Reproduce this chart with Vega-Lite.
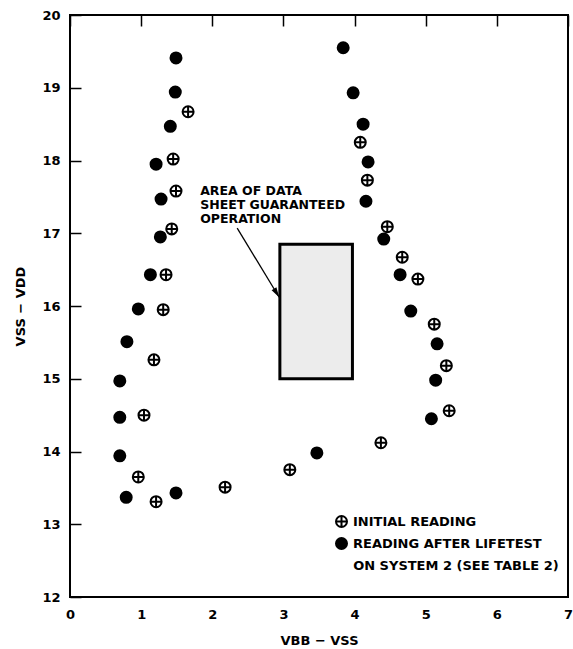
{
  "$schema": "https://vega.github.io/schema/vega-lite/v6.json",
  "width": 498,
  "height": 582,
  "autosize": {"type": "none"},
  "padding": {"left": 70, "top": 15, "right": 5, "bottom": 52},
  "background": "white",
  "config": {
    "view": {"stroke": "black", "strokeWidth": 2},
    "font": "DejaVu Sans",
    "legend": {
      "orient": "none",
      "legendX": 265,
      "legendY": 500,
      "padding": 0,
      "labelFont": "DejaVu Sans",
      "labelFontSize": 13,
      "labelFontWeight": "bold",
      "labelColor": "black",
      "labelOffset": 5,
      "labelLimit": 0,
      "rowPadding": 3,
      "symbolStrokeColor": "black",
      "symbolStrokeWidth": 2,
      "symbolSize": 121
    }
  },
  "datasets": {
    "points": [
      {"series": "READING AFTER LIFETEST", "x": 1.49, "y": 19.41},
      {"series": "READING AFTER LIFETEST", "x": 1.48, "y": 18.94},
      {"series": "READING AFTER LIFETEST", "x": 1.41, "y": 18.47},
      {"series": "READING AFTER LIFETEST", "x": 1.21, "y": 17.95},
      {"series": "READING AFTER LIFETEST", "x": 1.28, "y": 17.47},
      {"series": "READING AFTER LIFETEST", "x": 1.27, "y": 16.95},
      {"series": "READING AFTER LIFETEST", "x": 1.13, "y": 16.43},
      {"series": "READING AFTER LIFETEST", "x": 0.96, "y": 15.96},
      {"series": "READING AFTER LIFETEST", "x": 0.80, "y": 15.51},
      {"series": "READING AFTER LIFETEST", "x": 0.70, "y": 14.97},
      {"series": "READING AFTER LIFETEST", "x": 0.70, "y": 14.47},
      {"series": "READING AFTER LIFETEST", "x": 0.70, "y": 13.94},
      {"series": "READING AFTER LIFETEST", "x": 0.79, "y": 13.37},
      {"series": "READING AFTER LIFETEST", "x": 1.49, "y": 13.43},
      {"series": "READING AFTER LIFETEST", "x": 3.47, "y": 13.98},
      {"series": "READING AFTER LIFETEST", "x": 5.08, "y": 14.45},
      {"series": "READING AFTER LIFETEST", "x": 5.14, "y": 14.98},
      {"series": "READING AFTER LIFETEST", "x": 5.16, "y": 15.48},
      {"series": "READING AFTER LIFETEST", "x": 4.79, "y": 15.93},
      {"series": "READING AFTER LIFETEST", "x": 4.64, "y": 16.43},
      {"series": "READING AFTER LIFETEST", "x": 4.41, "y": 16.92},
      {"series": "READING AFTER LIFETEST", "x": 4.16, "y": 17.44},
      {"series": "READING AFTER LIFETEST", "x": 4.19, "y": 17.98},
      {"series": "READING AFTER LIFETEST", "x": 4.12, "y": 18.50},
      {"series": "READING AFTER LIFETEST", "x": 3.98, "y": 18.93},
      {"series": "READING AFTER LIFETEST", "x": 3.84, "y": 19.55},
      {"series": "INITIAL READING", "x": 1.66, "y": 18.67},
      {"series": "INITIAL READING", "x": 1.45, "y": 18.02},
      {"series": "INITIAL READING", "x": 1.49, "y": 17.58},
      {"series": "INITIAL READING", "x": 1.43, "y": 17.06},
      {"series": "INITIAL READING", "x": 1.35, "y": 16.43},
      {"series": "INITIAL READING", "x": 1.31, "y": 15.95},
      {"series": "INITIAL READING", "x": 1.18, "y": 15.26},
      {"series": "INITIAL READING", "x": 1.04, "y": 14.50},
      {"series": "INITIAL READING", "x": 0.96, "y": 13.65},
      {"series": "INITIAL READING", "x": 1.21, "y": 13.31},
      {"series": "INITIAL READING", "x": 2.18, "y": 13.51},
      {"series": "INITIAL READING", "x": 3.09, "y": 13.75},
      {"series": "INITIAL READING", "x": 4.37, "y": 14.12},
      {"series": "INITIAL READING", "x": 5.33, "y": 14.56},
      {"series": "INITIAL READING", "x": 5.29, "y": 15.18},
      {"series": "INITIAL READING", "x": 5.12, "y": 15.75},
      {"series": "INITIAL READING", "x": 4.89, "y": 16.37},
      {"series": "INITIAL READING", "x": 4.67, "y": 16.67},
      {"series": "INITIAL READING", "x": 4.46, "y": 17.09},
      {"series": "INITIAL READING", "x": 4.18, "y": 17.73},
      {"series": "INITIAL READING", "x": 4.08, "y": 18.25}
    ],
    "box": [{"x": 2.95, "x_end": 3.97, "y": 15.0, "y_end": 16.85}],
    "arrow": [{"x": 2.35, "y": 17.07, "x_end": 2.94, "y_end": 16.12}],
    "notes": [{"x": 1.83, "y": 17.53, "label": "AREA OF DATA\nSHEET GUARANTEED\nOPERATION"}],
    "legend_extra": [{"x": 3.98, "y": 12.43, "label": "ON SYSTEM 2 (SEE TABLE 2)"}]
  },
  "layer": [
    {
      "data": {"name": "box"},
      "mark": {"type": "rect", "fill": "#ececec", "stroke": "black", "strokeWidth": 3},
      "encoding": {
        "x": {
          "field": "x", "type": "quantitative",
          "scale": {"domain": [0, 7], "nice": false, "zero": false},
          "axis": {
            "title": "VBB − VSS",
            "values": [0, 1, 2, 3, 4, 5, 6, 7],
            "format": "d",
            "grid": true,
            "gridColor": "black",
            "gridOpacity": 1,
            "gridWidth": 1.5,
            "gridDash": [11, 2000],
            "domain": false,
            "ticks": false,
            "labelPadding": 11,
            "labelFont": "DejaVu Sans",
            "labelFontSize": 13,
            "labelFontWeight": "bold",
            "labelColor": "black",
            "labelFlush": false,
            "labelOverlap": false,
            "titleFont": "DejaVu Sans",
            "titleFontSize": 13,
            "titleFontWeight": "bold",
            "titleColor": "black",
            "titleX": 249,
            "titleY": 37,
            "titleBaseline": "top",
            "titleAlign": "center"
          }
        },
        "x2": {"field": "x_end"},
        "y": {
          "field": "y", "type": "quantitative",
          "scale": {"domain": [12, 20], "nice": false, "zero": false},
          "axis": {
            "title": "VSS − VDD",
            "values": [12, 13, 14, 15, 16, 17, 18, 19, 20],
            "format": "d",
            "grid": true,
            "gridColor": "black",
            "gridOpacity": 1,
            "gridWidth": 1.5,
            "gridDash": [11, 2000],
            "domain": false,
            "ticks": false,
            "labelPadding": 10,
            "labelFont": "DejaVu Sans",
            "labelFontSize": 13,
            "labelFontWeight": "bold",
            "labelColor": "black",
            "labelFlush": false,
            "labelOverlap": false,
            "titleFont": "DejaVu Sans",
            "titleFontSize": 13,
            "titleFontWeight": "bold",
            "titleColor": "black",
            "titleX": -50,
            "titleY": 291,
            "titleAngle": 270,
            "titleBaseline": "middle",
            "titleAlign": "center"
          }
        },
        "y2": {"field": "y_end"}
      }
    },
    {
      "data": {"name": "arrow"},
      "mark": {"type": "rule", "stroke": "black", "strokeWidth": 1.3},
      "encoding": {
        "x": {"field": "x", "type": "quantitative"},
        "y": {"field": "y", "type": "quantitative"},
        "x2": {"field": "x_end"},
        "y2": {"field": "y_end"}
      }
    },
    {
      "data": {"name": "arrow"},
      "mark": {"type": "point", "filled": true, "fill": "black", "stroke": null, "opacity": 1, "size": 156, "angle": -31, "shape": "M0,0L-0.45,-1.6L0.45,-1.6Z"},
      "encoding": {
        "x": {"field": "x_end", "type": "quantitative"},
        "y": {"field": "y_end", "type": "quantitative"}
      }
    },
    {
      "data": {"name": "notes"},
      "mark": {"type": "text", "align": "left", "baseline": "alphabetic", "lineBreak": "\n", "lineHeight": 14, "font": "DejaVu Sans", "fontSize": 12.5, "fontWeight": "bold", "color": "black"},
      "encoding": {
        "x": {"field": "x", "type": "quantitative"},
        "y": {"field": "y", "type": "quantitative"},
        "text": {"field": "label"}
      }
    },
    {
      "data": {"name": "points"},
      "mark": {"type": "point", "filled": true, "strokeWidth": 2, "opacity": 1, "size": 121},
      "encoding": {
        "x": {"field": "x", "type": "quantitative"},
        "y": {"field": "y", "type": "quantitative"},
        "shape": {
          "field": "series", "type": "nominal",
          "scale": {"domain": ["INITIAL READING", "READING AFTER LIFETEST"], "range": ["M-1,0A1,1,0,1,1,1,0A1,1,0,1,1,-1,0ZM-1,0L1,0M0,-1L0,1", "circle"]},
          "legend": {"title": null, "orient": "none", "legendX": 265, "legendY": 500}
        },
        "fill": {
          "field": "series", "type": "nominal",
          "scale": {"domain": ["INITIAL READING", "READING AFTER LIFETEST"], "range": ["white", "black"]},
          "legend": {"title": null, "orient": "none", "legendX": 265, "legendY": 500}
        },
        "stroke": {
          "field": "series", "type": "nominal",
          "scale": {"domain": ["INITIAL READING", "READING AFTER LIFETEST"], "range": ["black", "black"]},
          "legend": {"title": null, "orient": "none", "legendX": 265, "legendY": 500}
        }
      }
    },
    {
      "data": {"name": "legend_extra"},
      "mark": {"type": "text", "align": "left", "baseline": "middle", "font": "DejaVu Sans", "fontSize": 13, "fontWeight": "bold", "color": "black"},
      "encoding": {
        "x": {"field": "x", "type": "quantitative"},
        "y": {"field": "y", "type": "quantitative"},
        "text": {"field": "label"}
      }
    }
  ]
}
